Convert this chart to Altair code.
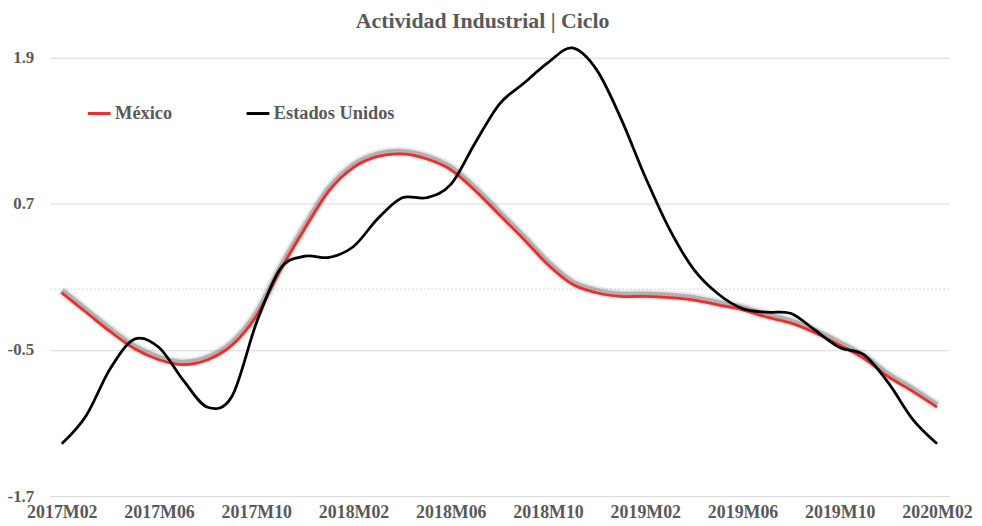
import altair as alt
import pandas as pd

periodos = ["2017M02", "2017M03", "2017M04", "2017M05", "2017M06", "2017M07", "2017M08",
            "2017M09", "2017M10", "2017M11", "2017M12", "2018M01", "2018M02", "2018M03",
            "2018M04", "2018M05", "2018M06", "2018M07", "2018M08", "2018M09", "2018M10",
            "2018M11", "2018M12", "2019M01", "2019M02", "2019M03", "2019M04", "2019M05",
            "2019M06", "2019M07", "2019M08", "2019M09", "2019M10", "2019M11", "2019M12",
            "2020M01", "2020M02"]

mexico = [-0.03, -0.19, -0.35, -0.49, -0.58, -0.62, -0.58, -0.46, -0.22, 0.16,
          0.50, 0.81, 1.00, 1.09, 1.11, 1.07, 0.98, 0.81, 0.61, 0.41,
          0.20, 0.04, -0.03, -0.06, -0.06, -0.07, -0.09, -0.13, -0.17, -0.23,
          -0.28, -0.36, -0.46, -0.57, -0.72, -0.84, -0.97]

eeuu = [-1.27, -1.04, -0.65, -0.41, -0.48, -0.75, -0.97, -0.88, -0.28, 0.17,
        0.27, 0.26, 0.35, 0.58, 0.75, 0.75, 0.86, 1.20, 1.52, 1.69,
        1.86, 1.98, 1.80, 1.40, 0.92, 0.49, 0.16, -0.04, -0.16, -0.19,
        -0.20, -0.34, -0.48, -0.54, -0.77, -1.07, -1.27]

etiquetas_x = ["2017M02", "2017M06", "2017M10", "2018M02", "2018M06", "2018M10",
               "2019M02", "2019M06", "2019M10", "2020M02"]
ticks_y = [-1.7, -0.5, 0.7, 1.9]
series = ["México", "Estados Unidos"]
colores = ["#EE2E2E", "#000000"]

n = len(periodos)
df = pd.DataFrame({
    "Periodo": periodos * 2,
    "Valor": mexico + eeuu,
    "Serie": [series[0]] * n + [series[1]] * n,
})
df_mx = df[df["Serie"] == series[0]]

FONT = "Liberation Serif"
GRAY = "#595959"
INTERP = dict(interpolate="cardinal", tension=0)

x_enc = alt.X(
    "Periodo:O", sort=periodos,
    scale=alt.Scale(type="point", padding=0.5),
    axis=alt.Axis(values=etiquetas_x, labelAngle=0, title=None, ticks=False, domain=False,
                  grid=False, labelPadding=8, labelFont=FONT, labelFontSize=18,
                  labelFontWeight="bold", labelColor=GRAY),
)
y_enc = alt.Y(
    "Valor:Q",
    scale=alt.Scale(domain=[-1.7, 1.9], nice=False, zero=False),
    axis=alt.Axis(values=ticks_y, title=None, ticks=False, domain=False, labelPadding=16,
                  grid=True, gridColor="#D9D9D9", gridWidth=1,
                  labelFont=FONT, labelFontSize=17, labelFontWeight="bold", labelColor=GRAY,
                  labelExpr="datum.value < 0 ? '-' + format(abs(datum.value), '.1f') : format(datum.value, '.1f')"),
)

cero = alt.Chart(pd.DataFrame({"v": [0.0]})).mark_rule(
    color="#D0D0D0", strokeDash=[2, 2], strokeWidth=1
).encode(y="v:Q")

sombra1 = alt.Chart(df_mx).mark_line(
    color="#8A8A8A", strokeWidth=10, opacity=0.2, yOffset=-2, **INTERP
).encode(x=x_enc, y=y_enc)
sombra2 = alt.Chart(df_mx).mark_line(
    color="#6E6E6E", strokeWidth=6, opacity=0.45, yOffset=-2, **INTERP
).encode(x=x_enc, y=y_enc)

lineas = alt.Chart(df).mark_line(strokeWidth=2.8, **INTERP).encode(
    x=x_enc,
    y=y_enc,
    color=alt.Color(
        "Serie:N",
        scale=alt.Scale(domain=series, range=colores),
        sort=series,
        legend=alt.Legend(
            orient="none", legendX=37, legendY=43, direction="horizontal", title=None,
            symbolType="stroke", symbolSize=529, symbolStrokeWidth=3,
            labelFont=FONT, labelFontSize=18.5, labelFontWeight="bold", labelColor=GRAY,
            columnPadding=68, labelOffset=3, padding=0,
        ),
    ),
    order=alt.Order("Serie:N", sort="descending"),
)

chart = alt.layer(cero, sombra1, sombra2, lineas).properties(
    width=907,
    height=442,
    title=alt.TitleParams(
        "Actividad Industrial | Ciclo", font=FONT, fontSize=22, fontWeight="bold",
        color=GRAY, anchor="middle", dx=-17, offset=9,
    ),
    autosize=alt.AutoSizeParams(type="none"),
    padding={"left": 42, "top": 48, "right": 25, "bottom": 28},
).configure_view(stroke=None)

chart.save("out.html", embed_options={"renderer": "svg", "actions": False})
